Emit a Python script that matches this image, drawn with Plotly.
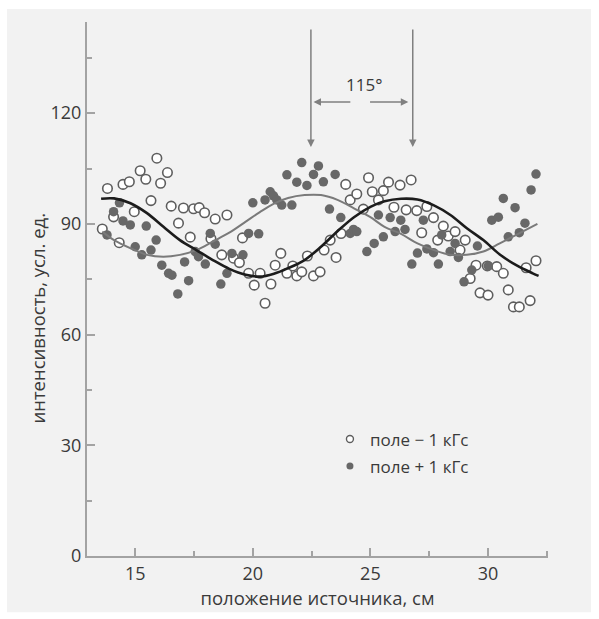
import plotly.graph_objects as go

# Measured intensities, field -1 kGs (open circles)
minus_x = [13.60, 13.82, 14.08, 14.32, 14.48, 14.75, 14.96, 15.21, 15.45, 15.67,
           15.92, 16.08, 16.37, 16.53, 16.84, 17.05, 17.34, 17.48, 17.72, 17.95,
           18.22, 18.40, 18.68, 18.90, 19.18, 19.43, 19.56, 19.82, 20.06, 20.31,
           20.52, 20.77, 20.95, 21.19, 21.45, 21.70, 21.87, 22.08, 22.32, 22.58,
           22.86, 23.03, 23.29, 23.54, 23.75, 23.95, 24.14, 24.42, 24.70, 24.92,
           25.08, 25.34, 25.55, 25.77, 26.00, 26.26, 26.52, 26.73, 26.97, 27.18,
           27.40, 27.68, 27.86, 28.10, 28.31, 28.60, 28.81, 29.03, 29.24, 29.49,
           29.66, 29.97, 30.00, 30.37, 30.65, 30.86, 31.08, 31.33, 31.62, 31.79,
           32.04]
minus_y = [88.6, 99.6, 91.9, 84.9, 100.7, 101.4, 93.3, 104.4, 102.1, 96.3,
           107.8, 101.0, 103.9, 94.8, 90.2, 94.3, 86.4, 94.1, 94.4, 93.0,
           86.0, 91.3, 81.6, 92.4, 80.7, 79.5, 86.2, 76.6, 73.4, 76.6,
           68.5, 73.7, 78.8, 82.0, 76.6, 78.6, 75.9, 77.0, 81.3, 75.9,
           77.0, 82.9, 85.6, 80.9, 87.4, 100.7, 96.5, 98.1, 94.0, 102.5,
           98.7, 96.5, 99.0, 101.3, 94.5, 100.5, 93.8, 101.9, 93.6, 87.6,
           94.7, 91.7, 85.6, 89.4, 86.7, 87.9, 82.9, 85.6, 75.2, 78.8,
           71.3, 78.6, 70.7, 78.4, 76.6, 72.1, 67.5, 67.5, 78.1, 69.2,
           80.0]

# Measured intensities, field +1 kGs (filled circles)
plus_x = [13.80, 14.08, 14.33, 14.48, 14.79, 15.00, 15.28, 15.47, 15.67, 15.89,
          16.13, 16.42, 16.56, 16.81, 17.10, 17.27, 17.55, 17.69, 17.98, 18.19,
          18.40, 18.64, 18.90, 19.11, 19.58, 19.82, 20.00, 20.25, 20.52, 20.74,
          20.88, 21.02, 21.23, 21.45, 21.66, 21.87, 22.08, 22.30, 22.58, 22.79,
          23.00, 23.26, 23.50, 23.74, 24.14, 24.28, 24.42, 24.85, 25.16, 25.34,
          25.55, 25.84, 26.05, 26.29, 26.47, 26.76, 27.00, 27.25, 27.40, 27.68,
          27.89, 28.03, 28.39, 28.60, 28.74, 28.98, 29.31, 29.55, 30.01, 30.16,
          30.44, 30.65, 30.86, 31.15, 31.33, 31.57, 31.83, 32.04]
plus_y = [87.0, 93.3, 95.7, 90.8, 89.7, 83.8, 81.6, 89.4, 82.9, 85.6,
          78.8, 76.6, 76.1, 71.0, 79.7, 74.6, 82.5, 81.1, 79.1, 87.4,
          84.5, 73.7, 76.6, 82.0, 81.6, 87.4, 95.7, 87.3, 96.5, 98.7,
          97.6, 96.5, 95.1, 103.3, 95.1, 101.3, 106.6, 100.4, 103.4, 105.7,
          101.4, 94.0, 103.4, 91.7, 87.4, 88.5, 87.9, 82.5, 84.7, 92.4,
          86.5, 91.7, 87.9, 91.0, 88.5, 79.1, 82.1, 91.0, 83.2, 82.2,
          79.1, 87.0, 82.5, 84.7, 80.9, 74.3, 77.5, 84.0, 78.6, 91.0,
          91.8, 96.9, 86.5, 94.4, 87.6, 90.2, 99.2, 103.5]

# Fitted curves
fit_minus_x = [13.55, 14.1, 14.8, 15.5, 16.2, 16.9, 17.6, 18.3, 19.0, 19.7,
               20.3, 20.9, 21.5, 22.2, 22.9, 23.6, 24.3, 25.0, 25.6, 26.3,
               27.0, 27.7, 28.4, 29.1, 29.8, 30.5, 31.2, 31.9, 32.15]
fit_minus_y = [96.8, 96.9, 95.6, 92.9, 89.2, 85.6, 82.9, 80.2, 77.8, 76.2,
               75.7, 76.5, 78.0, 80.2, 83.8, 88.0, 91.8, 94.6, 96.1, 96.8,
               96.6, 95.0, 92.4, 88.8, 85.6, 81.7, 78.8, 76.6, 75.9]

fit_plus_x = [13.6, 14.1, 14.8, 15.5, 16.2, 16.9, 17.6, 18.3, 19.0, 19.7,
              20.3, 20.9, 21.5, 22.2, 22.9, 23.6, 24.3, 25.0, 25.6, 26.3,
              27.0, 27.7, 28.4, 29.1, 29.8, 30.5, 31.2, 32.1]
fit_plus_y = [87.9, 85.6, 83.4, 81.6, 81.1, 81.6, 82.9, 85.2, 87.6, 90.6,
              93.2, 95.5, 97.0, 97.8, 97.8, 96.5, 94.2, 91.8, 89.2, 87.3,
              84.7, 82.9, 81.6, 81.6, 82.5, 84.7, 87.0, 90.0]

x_ticks = [15, 20, 25, 30]
y_ticks = [0, 30, 60, 90, 120]

FONT = "Open Sans"
TEXT = "#3a3a3a"
AXIS = "#a3a3a3"

fig = go.Figure()

fig.add_trace(go.Scatter(
    x=minus_x, y=minus_y, mode="markers", showlegend=False,
    marker=dict(size=9.5, color="white", line=dict(color="#5e5e5e", width=1.6)),
))
fig.add_trace(go.Scatter(
    x=plus_x, y=plus_y, mode="markers", showlegend=False,
    marker=dict(size=9.5, color="#686868", line=dict(width=0)),
))
fig.add_trace(go.Scatter(
    x=fit_plus_x, y=fit_plus_y, mode="lines", showlegend=False,
    line=dict(color="#7a7a7a", width=2, shape="spline", smoothing=1),
))
fig.add_trace(go.Scatter(
    x=fit_minus_x, y=fit_minus_y, mode="lines", showlegend=False,
    line=dict(color="#1c1c1c", width=2.6, shape="spline", smoothing=1),
))

# legend entries
fig.add_trace(go.Scatter(
    x=[None], y=[None], mode="markers", name="поле − 1 кГс", legendgroup="a",
    marker=dict(size=7, color="white", line=dict(color="#5e5e5e", width=1.4)),
))
fig.add_trace(go.Scatter(
    x=[None], y=[None], mode="markers", name="поле + 1 кГс", legendgroup="b",
    marker=dict(size=7, color="#686868", line=dict(width=0)),
))

arrow = dict(showarrow=True, text="", axref="x", ayref="y", arrowhead=2,
             arrowsize=1, arrowwidth=1.5, arrowcolor="#808080")
annotations = [
    dict(x=22.47, y=110.8, ax=22.47, ay=143.1, **arrow),
    dict(x=26.80, y=110.8, ax=26.80, ay=143.1, **arrow),
    dict(x=22.58, y=123.0, ax=24.21, ay=123.0, **arrow),
    dict(x=26.61, y=123.0, ax=24.92, ay=123.0, **arrow),
    dict(x=24.72, y=127.7, text="115°", showarrow=False,
         font=dict(family=FONT, size=17, color=TEXT)),
    dict(xref="paper", yref="paper", x=-0.108, y=0.445, xanchor="center",
         yanchor="middle", text="интенсивность, усл. ед.", textangle=-90,
         showarrow=False, font=dict(family=FONT, size=18.5, color=TEXT)),
]

fig.update_layout(
    width=599, height=619,
    margin=dict(l=87, r=51, t=22, b=63),
    paper_bgcolor="white",
    plot_bgcolor="rgba(0,0,0,0)",
    annotations=annotations,
    shapes=[dict(type="rect", xref="paper", yref="paper",
                 x0=-0.1735, x1=1.0933, y0=-0.1055, y1=1.0244,
                 fillcolor="#f2f2f2", line=dict(width=0), layer="below")],
    legend=dict(x=0.527, y=0.252, xanchor="left", yanchor="top",
                bgcolor="rgba(0,0,0,0)", tracegroupgap=2,
                font=dict(family=FONT, size=17, color=TEXT)),
    xaxis=dict(
        range=[12.95, 32.55], showgrid=False, zeroline=False,
        showline=True, linecolor=AXIS, linewidth=2,
        tickvals=x_ticks, ticks="inside", ticklen=8, tickwidth=1.5, tickcolor=AXIS,
        minor=dict(dtick=2.5, tick0=0, ticks="inside", ticklen=5, tickwidth=1.5,
                   tickcolor=AXIS, showgrid=False),
        tickfont=dict(family=FONT, size=18, color=TEXT),
        title=dict(text="положение источника, см", standoff=3,
                   font=dict(family=FONT, size=18.5, color=TEXT)),
    ),
    yaxis=dict(
        range=[0, 144.7], showgrid=False, zeroline=False,
        showline=True, linecolor=AXIS, linewidth=2,
        tickvals=y_ticks, ticks="inside", ticklen=8, tickwidth=1.5, tickcolor=AXIS,
        minor=dict(dtick=15, tick0=0, ticks="inside", ticklen=5, tickwidth=1.5,
                   tickcolor=AXIS, showgrid=False),
        tickfont=dict(family=FONT, size=18, color=TEXT),
    ),
)

fig.write_html("out.html")
